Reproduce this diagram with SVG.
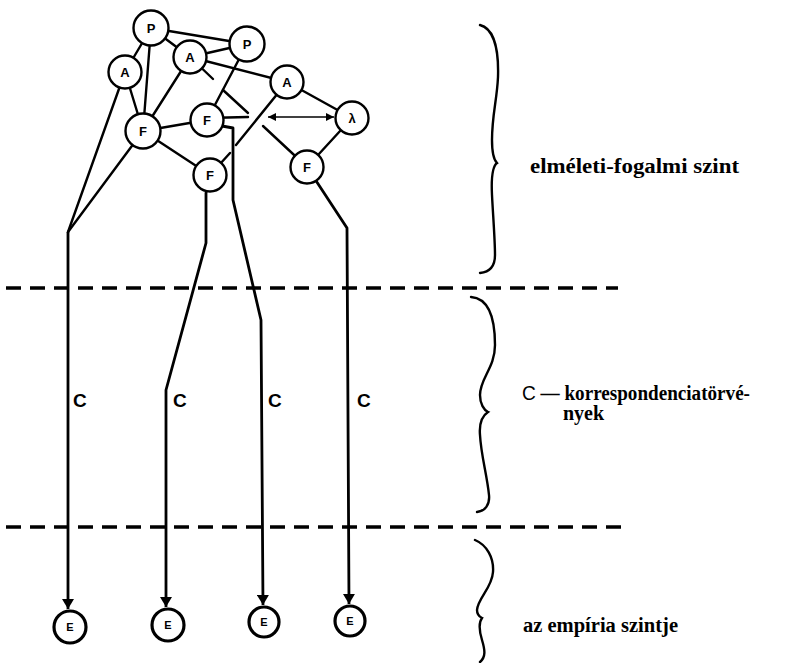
<svg xmlns="http://www.w3.org/2000/svg" width="797" height="663" viewBox="0 0 797 663">
<style>
.ln{fill:none;stroke:#000;stroke-width:2.4;stroke-linecap:round;stroke-linejoin:round}
.vl{fill:none;stroke:#000;stroke-width:2.8;stroke-linejoin:round}
.thin{fill:none;stroke:#000;stroke-width:1.6}
.dash{fill:none;stroke:#000;stroke-width:3.5;stroke-dasharray:15 9}
.brace{fill:none;stroke:#000;stroke-width:2.4;stroke-linecap:round}
.node circle{fill:#fff;stroke:#000;stroke-width:2.4}
.node text{font-family:"Liberation Sans",Arial,sans-serif;font-weight:bold;font-size:13px;text-anchor:middle}
.emp circle{fill:#fff;stroke:#000;stroke-width:3.2}
.emp text{font-family:"Liberation Sans",Arial,sans-serif;font-weight:bold;font-size:11px;text-anchor:middle}
.c{font-family:"Liberation Sans",Arial,sans-serif;font-weight:bold;font-size:19px}
.lbl{font-family:"Liberation Serif","Times New Roman",serif;font-weight:bold;font-size:20px}
</style>
<defs>
<marker id="ah" viewBox="0 0 10 12" refX="10" refY="6" markerWidth="10" markerHeight="12" markerUnits="userSpaceOnUse" orient="auto">
<path d="M0,0 L10,6 L0,12 Z" fill="#000"/>
</marker>
<marker id="sh" viewBox="0 0 8 8" refX="8" refY="4" markerWidth="8" markerHeight="8" markerUnits="userSpaceOnUse" orient="auto-start-reverse">
<path d="M0,0 L8,4 L0,8 Z" fill="#000"/>
</marker>
</defs>

<g id="levels">
<line class="dash" x1="6" y1="288" x2="618" y2="288"/>
<line class="dash" x1="6" y1="527" x2="628" y2="527"/>
</g>

<g id="connectors">
<line class="ln" x1="151" y1="28" x2="247" y2="44"/>
<line class="ln" x1="151" y1="28" x2="125" y2="72"/>
<line class="ln" x1="151" y1="28" x2="190" y2="57"/>
<line class="ln" x1="151" y1="28" x2="143" y2="131"/>
<line class="ln" x1="190" y1="57" x2="247" y2="44"/>
<line class="ln" x1="190" y1="57" x2="287" y2="82"/>
<line class="ln" x1="190" y1="57" x2="143" y2="131"/>
<line class="ln" x1="125" y1="72" x2="143" y2="131"/>
<line class="ln" x1="125" y1="72" x2="68" y2="232"/>
<line class="ln" x1="143" y1="131" x2="68" y2="232"/>
<line class="ln" x1="143" y1="131" x2="207" y2="120"/>
<line class="ln" x1="143" y1="131" x2="210" y2="175"/>
<line class="ln" x1="247" y1="44" x2="207" y2="120"/>
<line class="ln" x1="287" y1="82" x2="236" y2="145"/>
<line class="ln" x1="230" y1="153" x2="210" y2="175"/>
<line class="ln" x1="287" y1="82" x2="352" y2="118"/>
<line class="ln" x1="352" y1="118" x2="307" y2="167"/>
<line class="ln" x1="190" y1="57" x2="213" y2="79"/>
<line class="ln" x1="223" y1="90" x2="248" y2="113"/>
<line class="ln" x1="263" y1="126" x2="307" y2="167"/>
<line class="ln" x1="207" y1="118" x2="248" y2="117"/>
<line class="thin" x1="268" y1="117" x2="334" y2="117" marker-start="url(#sh)" marker-end="url(#sh)"/>
<polyline class="vl" points="68,232 68,609" marker-end="url(#ah)"/>
<polyline class="vl" points="210,175 206,193 206,243 166,390 166,607" marker-end="url(#ah)"/>
<polyline class="vl" points="207,120 222,126 233,128 233,200 261,320 263,605" marker-end="url(#ah)"/>
<polyline class="vl" points="307,167 347,228 349,604" marker-end="url(#ah)"/>
<text class="c" x="73" y="407">C</text>
<text class="c" x="173" y="407">C</text>
<text class="c" x="268" y="407">C</text>
<text class="c" x="357" y="407">C</text>
</g>

<g id="nP1" class="node"><circle cx="151" cy="28" r="17.5"/><text x="151" y="33">P</text></g>
<g id="nP2" class="node"><circle cx="247" cy="44" r="17.5"/><text x="247" y="49">P</text></g>
<g id="nA1" class="node"><circle cx="125" cy="72" r="16.5"/><text x="125" y="77">A</text></g>
<g id="nA2" class="node"><circle cx="190" cy="57" r="16.5"/><text x="190" y="62">A</text></g>
<g id="nA3" class="node"><circle cx="287" cy="82" r="16.5"/><text x="287" y="87">A</text></g>
<g id="nL" class="node"><circle cx="352" cy="118" r="16.5"/><text x="352" y="123">λ</text></g>
<g id="nF1" class="node"><circle cx="143" cy="131" r="17.5"/><text x="143" y="136">F</text></g>
<g id="nF2" class="node"><circle cx="207" cy="120" r="16.5"/><text x="207" y="125">F</text></g>
<g id="nF3" class="node"><circle cx="210" cy="175" r="16.5"/><text x="210" y="180">F</text></g>
<g id="nF4" class="node"><circle cx="307" cy="167" r="16.5"/><text x="307" y="172">F</text></g>

<g id="nE1" class="emp"><circle cx="70" cy="627" r="16"/><text x="70" y="631">E</text></g>
<g id="nE2" class="emp"><circle cx="168" cy="625" r="16"/><text x="168" y="629">E</text></g>
<g id="nE3" class="emp"><circle cx="264" cy="622" r="15"/><text x="264" y="626">E</text></g>
<g id="nE4" class="emp"><circle cx="350" cy="621" r="15"/><text x="350" y="625">E</text></g>

<g id="braces">
<path class="brace" d="M480,25 C492,28 499,45 498,77 C497,100 492,115 492,140 C492,152 494,160 497,163 C493,166 491,175 492,195 C493,215 495,240 495,255 C495,266 490,272 480,273"/>
<path class="brace" d="M471,297 C484,298 495,310 495,345 C495,368 480,378 480,395 C480,404 484,410 488,412 C482,416 479,423 480,435 C481,455 487,475 489,495 C490,505 485,511 477,512"/>
<path class="brace" d="M475,540 C487,545 494,558 493,572 C492,588 478,598 477,610 C477,614 480,617 482,618 C479,622 479,630 482,640 C485,650 486,657 480,662"/>
</g>

<g id="labels">
<text class="lbl" x="530" y="173" textLength="209" lengthAdjust="spacingAndGlyphs">elméleti-fogalmi szint</text>
<text class="lbl" x="522" y="400" textLength="228" lengthAdjust="spacingAndGlyphs"><tspan font-weight="normal" font-family="Liberation Sans, Arial, sans-serif">C</tspan> — korrespondenciatörvé-</text>
<text class="lbl" x="563" y="420">nyek</text>
<text class="lbl" x="523" y="632" textLength="155" lengthAdjust="spacingAndGlyphs">az empíria szintje</text>
</g>
</svg>
